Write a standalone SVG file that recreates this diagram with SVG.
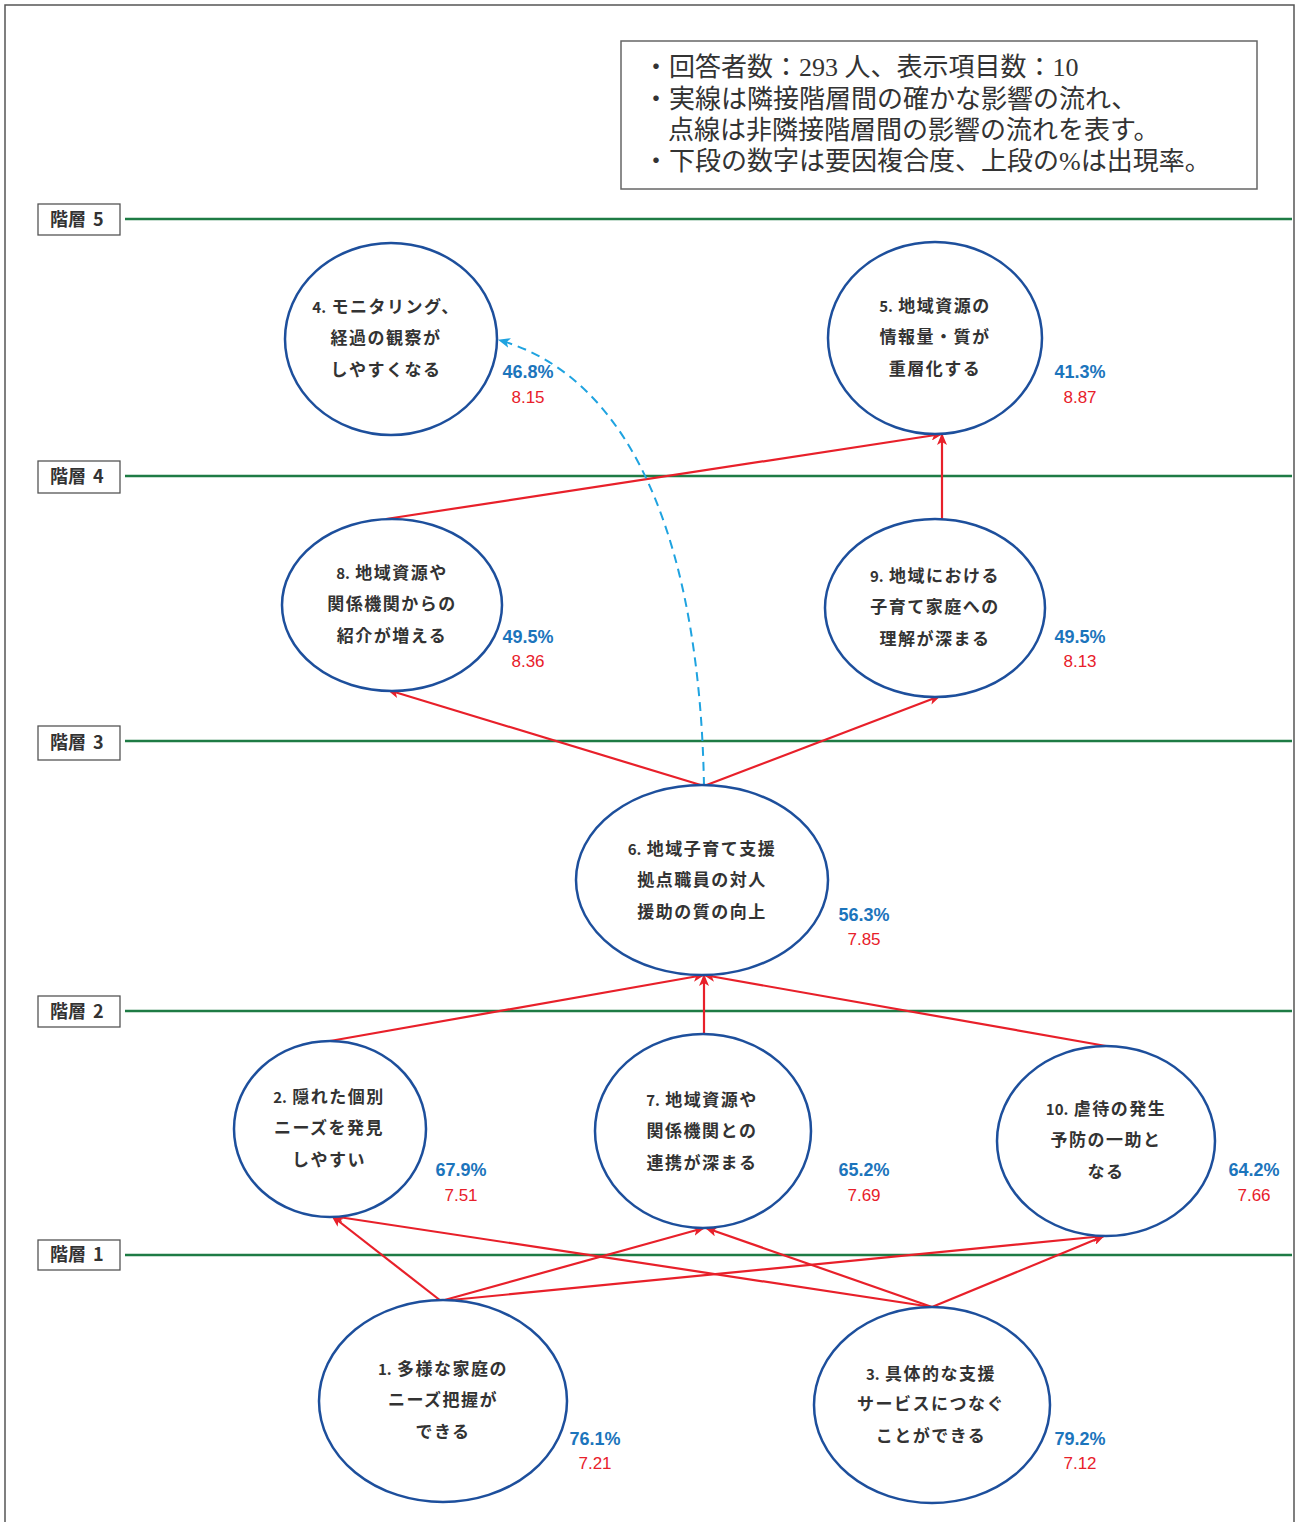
<svg xmlns="http://www.w3.org/2000/svg" width="1298" height="1522" viewBox="0 0 1298 1522">
<defs>
<style>
.frame{fill:none;stroke:#555;stroke-width:1.5}
.lvlbox{fill:#fff;stroke:#555;stroke-width:1.3}
.lvltxt{font-family:"Noto Sans CJK JP",sans-serif;font-weight:bold;font-size:18px;fill:#333}
.lvlline{stroke:#1e7b45;stroke-width:2.5}
.node{fill:#fff;stroke:#1d4f9c;stroke-width:2.5}
.ntxt{font-family:"Noto Sans CJK JP",sans-serif;font-weight:bold;font-size:17px;fill:#333;text-anchor:middle;letter-spacing:1.5px}
.num{font-size:15px;letter-spacing:0}
.pct{font-family:"Liberation Sans","Noto Sans",sans-serif;font-weight:bold;font-size:18px;fill:#1c75bc;text-anchor:middle}
.val{font-family:"Liberation Sans","Noto Sans",sans-serif;font-size:17px;fill:#e8202a;text-anchor:middle}
.edge{fill:none;stroke:#e8202a;stroke-width:2.2;marker-end:url(#ah)}
.dash{fill:none;stroke:#1fa3e0;stroke-width:2;stroke-dasharray:9 6;marker-end:url(#ahb)}
.legend{font-family:"Liberation Serif","Noto Sans CJK JP",serif;font-size:26px;fill:#333}
</style>
<marker id="ah" viewBox="0 0 12 10" refX="11" refY="5" markerWidth="12" markerHeight="10" markerUnits="userSpaceOnUse" orient="auto">
<path d="M0,0 L12,5 L0,10 L3,5 z" fill="#e8202a"/>
</marker>
<marker id="ahb" viewBox="0 0 12 10" refX="11" refY="5" markerWidth="12" markerHeight="10" markerUnits="userSpaceOnUse" orient="auto">
<path d="M0,0 L12,5 L0,10 L3,5 z" fill="#1fa3e0"/>
</marker>
</defs>
<rect x="0" y="0" width="1298" height="1522" fill="#fff"/>
<rect class="frame" x="5" y="5" width="1289" height="1540"/>

<g id="legend">
<rect x="621" y="41" width="636" height="148" fill="#fff" stroke="#666" stroke-width="1.5"/>
<text class="legend" x="643" y="76">・回答者数：293 人、表示項目数：10</text>
<text class="legend" x="643" y="108">・実線は隣接階層間の確かな影響の流れ、</text>
<text class="legend" x="668" y="139">点線は非隣接階層間の影響の流れを表す。</text>
<text class="legend" x="643" y="170">・下段の数字は要因複合度、上段の%は出現率。</text>
</g>

<g id="levels">
<line class="lvlline" x1="125" y1="219" x2="1292" y2="219"/>
<line class="lvlline" x1="125" y1="476" x2="1292" y2="476"/>
<line class="lvlline" x1="125" y1="741" x2="1292" y2="741"/>
<line class="lvlline" x1="125" y1="1011" x2="1292" y2="1011"/>
<line class="lvlline" x1="125" y1="1255" x2="1292" y2="1255"/>
<g id="level5"><rect class="lvlbox" x="38" y="204" width="82" height="31"/><text class="lvltxt" x="50" y="226">階層<tspan x="93">5</tspan></text></g>
<g id="level4"><rect class="lvlbox" x="38" y="461" width="82" height="32"/><text class="lvltxt" x="50" y="483">階層<tspan x="93">4</tspan></text></g>
<g id="level3"><rect class="lvlbox" x="38" y="726" width="82" height="34"/><text class="lvltxt" x="50" y="749">階層<tspan x="93">3</tspan></text></g>
<g id="level2"><rect class="lvlbox" x="38" y="996" width="82" height="31"/><text class="lvltxt" x="50" y="1018">階層<tspan x="93">2</tspan></text></g>
<g id="level1"><rect class="lvlbox" x="38" y="1240" width="82" height="30"/><text class="lvltxt" x="50" y="1261">階層<tspan x="93">1</tspan></text></g>
</g>

<g id="connectors">
<line class="edge" x1="386" y1="519" x2="942" y2="434"/>
<line class="edge" x1="942" y1="519" x2="942" y2="434"/>
<line class="edge" x1="704" y1="786" x2="388" y2="690"/>
<line class="edge" x1="704" y1="786" x2="940" y2="696"/>
<path class="dash" d="M704,786 C700,560 640,380 499,340"/>
<line class="edge" x1="330" y1="1041" x2="704" y2="975"/>
<line class="edge" x1="704" y1="1034" x2="704" y2="975"/>
<line class="edge" x1="1106" y1="1046" x2="704" y2="975"/>
<line class="edge" x1="441" y1="1301" x2="332" y2="1216"/>
<line class="edge" x1="441" y1="1301" x2="704" y2="1228"/>
<line class="edge" x1="441" y1="1301" x2="1104" y2="1236"/>
<line class="edge" x1="932" y1="1307" x2="332" y2="1216"/>
<line class="edge" x1="932" y1="1307" x2="706" y2="1228"/>
<line class="edge" x1="932" y1="1307" x2="1104" y2="1236"/>
</g>

<g id="node4">
<ellipse class="node" cx="391" cy="339" rx="106" ry="96"/>
<text class="ntxt" x="386" y="313"><tspan class="num">4.</tspan> モニタリング、</text>
<text class="ntxt" x="386" y="344">経過の観察が</text>
<text class="ntxt" x="386" y="376">しやすくなる</text>
<text class="pct" x="528" y="378">46.8%</text>
<text class="val" x="528" y="403">8.15</text>
</g>
<g id="node5">
<ellipse class="node" cx="935" cy="338" rx="107" ry="96"/>
<text class="ntxt" x="935" y="312"><tspan class="num">5.</tspan> 地域資源の</text>
<text class="ntxt" x="935" y="343">情報量・質が</text>
<text class="ntxt" x="935" y="375">重層化する</text>
<text class="pct" x="1080" y="378">41.3%</text>
<text class="val" x="1080" y="403">8.87</text>
</g>
<g id="node8">
<ellipse class="node" cx="392" cy="605" rx="110" ry="86"/>
<text class="ntxt" x="392" y="579"><tspan class="num">8.</tspan> 地域資源や</text>
<text class="ntxt" x="392" y="610">関係機関からの</text>
<text class="ntxt" x="392" y="642">紹介が増える</text>
<text class="pct" x="528" y="643">49.5%</text>
<text class="val" x="528" y="667">8.36</text>
</g>
<g id="node9">
<ellipse class="node" cx="935" cy="608" rx="110" ry="89"/>
<text class="ntxt" x="935" y="582"><tspan class="num">9.</tspan> 地域における</text>
<text class="ntxt" x="935" y="613">子育て家庭への</text>
<text class="ntxt" x="935" y="645">理解が深まる</text>
<text class="pct" x="1080" y="643">49.5%</text>
<text class="val" x="1080" y="667">8.13</text>
</g>
<g id="node6">
<ellipse class="node" cx="702" cy="880" rx="126" ry="95"/>
<text class="ntxt" x="702" y="855"><tspan class="num">6.</tspan> 地域子育て支援</text>
<text class="ntxt" x="702" y="886">拠点職員の対人</text>
<text class="ntxt" x="702" y="918">援助の質の向上</text>
<text class="pct" x="864" y="921">56.3%</text>
<text class="val" x="864" y="945">7.85</text>
</g>
<g id="node2">
<ellipse class="node" cx="330" cy="1129" rx="96" ry="88"/>
<text class="ntxt" x="329" y="1103"><tspan class="num">2.</tspan> 隠れた個別</text>
<text class="ntxt" x="329" y="1134">ニーズを発見</text>
<text class="ntxt" x="329" y="1166">しやすい</text>
<text class="pct" x="461" y="1176">67.9%</text>
<text class="val" x="461" y="1201">7.51</text>
</g>
<g id="node7">
<ellipse class="node" cx="703" cy="1131" rx="108" ry="97"/>
<text class="ntxt" x="702" y="1106"><tspan class="num">7.</tspan> 地域資源や</text>
<text class="ntxt" x="702" y="1137">関係機関との</text>
<text class="ntxt" x="702" y="1169">連携が深まる</text>
<text class="pct" x="864" y="1176">65.2%</text>
<text class="val" x="864" y="1201">7.69</text>
</g>
<g id="node10">
<ellipse class="node" cx="1106" cy="1141" rx="109" ry="95"/>
<text class="ntxt" x="1106" y="1115"><tspan class="num">10.</tspan> 虐待の発生</text>
<text class="ntxt" x="1106" y="1146">予防の一助と</text>
<text class="ntxt" x="1106" y="1178">なる</text>
<text class="pct" x="1254" y="1176">64.2%</text>
<text class="val" x="1254" y="1201">7.66</text>
</g>
<g id="node1">
<ellipse class="node" cx="443" cy="1401" rx="124" ry="101"/>
<text class="ntxt" x="443" y="1375"><tspan class="num">1.</tspan> 多様な家庭の</text>
<text class="ntxt" x="443" y="1406">ニーズ把握が</text>
<text class="ntxt" x="443" y="1438">できる</text>
<text class="pct" x="595" y="1445">76.1%</text>
<text class="val" x="595" y="1469">7.21</text>
</g>
<g id="node3">
<ellipse class="node" cx="932" cy="1405" rx="118" ry="98"/>
<text class="ntxt" x="931" y="1380"><tspan class="num">3.</tspan> 具体的な支援</text>
<text class="ntxt" x="931" y="1410">サービスにつなぐ</text>
<text class="ntxt" x="931" y="1442">ことができる</text>
<text class="pct" x="1080" y="1445">79.2%</text>
<text class="val" x="1080" y="1469">7.12</text>
</g>
</svg>
